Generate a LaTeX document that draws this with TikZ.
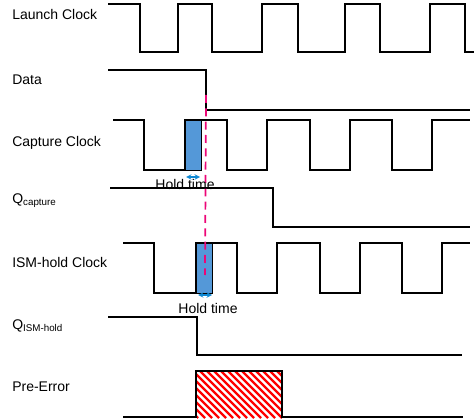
\documentclass[tikz,border=0pt]{standalone}
\usepackage{fontspec}
\setmainfont{Liberation Sans}
\usetikzlibrary{patterns}
\begin{document}
\begin{tikzpicture}[x=0.75pt,y=-0.75pt,
  sig/.style={line width=1.3pt,black},
  lbl/.style={anchor=west,font=\fontsize{10.5}{12}\selectfont,inner sep=0pt},
  blue/.style={fill=cyan!60!blue!70,draw=black,line width=0.6pt},
  harr/.style={<->,>=stealth,cyan!70!blue,line width=0.8pt}]
\useasboundingbox (0,0) rectangle (474,420);
\node[lbl] (l1) at (12,14) {Launch Clock};
\node[lbl] (l2) at (12,80) {Data};
\node[lbl] (l3) at (12,143) {Capture Clock};
\node[lbl] (l4) at (12,201) {Q\textsubscript{capture}};
\node[lbl] (l5) at (12,262) {ISM-hold Clock};
\node[lbl] (l6) at (12,326) {Q\textsubscript{ISM-hold}};
\node[lbl] (l7) at (12,387) {Pre-Error};
% blue hold windows
\fill[blue] (185,120) rectangle (201,170);
\fill[blue] (196,243) rectangle (212,293);
% launch clock
\draw[sig] (108,4) -- (140,4) -- (140,52) -- (178,52) -- (178,4) -- (212,4) -- (212,52) -- (262,52) -- (262,4) -- (298,4) -- (298,52) -- (345,52) -- (345,4) -- (380,4) -- (380,52) -- (430,52) -- (430,4) -- (465,4) -- (465,52) -- (474,52);
% data
\draw[sig] (108,70) -- (206,70) -- (206,110) -- (470,110);
% capture clock
\draw[sig] (113,120) -- (144,120) -- (144,170) -- (185,170) -- (185,120) -- (227,120) -- (227,170) -- (267,170) -- (267,120) -- (310,120) -- (310,170) -- (350,170) -- (350,120) -- (392,120) -- (392,170) -- (432,170) -- (432,120) -- (470,120);
% Q capture
\draw[sig] (110,188) -- (273,188) -- (273,227) -- (470,227);
% ISM clock
\draw[sig] (123,243) -- (154,243) -- (154,293) -- (196,293) -- (196,243) -- (237,243) -- (237,293) -- (277,293) -- (277,243) -- (320,243) -- (320,293) -- (360,293) -- (360,243) -- (402,243) -- (402,293) -- (442,293) -- (442,243) -- (470,243);
% Q ISM
\draw[sig] (108,317) -- (197,317) -- (197,355) -- (462,355);
% pre-error
\begin{scope}
\clip (197,371) rectangle (282,418);
\foreach \i in {-60,-53,...,100}
  \draw[red,line width=1.6pt] (197+\i,371) -- (197+\i+47,418);
\end{scope}
\draw[sig] (123,417) -- (196,417) -- (196,371) -- (282,371) -- (282,417) -- (463,417);
% dashed
\coordinate (d1) at (206,95);
\coordinate (d2) at (205,275);
\draw[magenta!80!red,line width=1.3pt,dash pattern=on 6pt off 4pt] (d1) -- (d2);
% hold arrows
\coordinate (a1) at (186,177); \coordinate (a2) at (200,177);
\draw[harr] (a1) -- (a2);
\coordinate (b1) at (198,295); \coordinate (b2) at (212,295);
\draw[harr] (b1) -- (b2);
\node[font=\fontsize{10.5}{12}\selectfont,inner sep=0pt] (h1) at (185,184) {Hold time};
\node[font=\fontsize{10.5}{12}\selectfont,inner sep=0pt] (h2) at (208,308) {Hold time};
\end{tikzpicture}
\end{document}
